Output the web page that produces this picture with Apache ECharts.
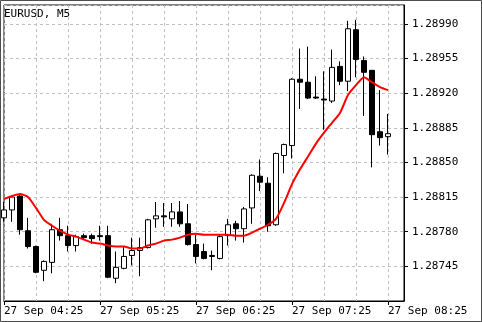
<!DOCTYPE html>
<html><head><meta charset="utf-8">
<script src="https://cdn.jsdelivr.net/npm/echarts@6/dist/echarts.min.js"></script>
<style>html,body{margin:0;padding:0;background:#fff}#c{width:482px;height:322px}</style>
</head><body><div id="c"></div>
<script>
const symbolTitle = 'EURUSD, M5';
const dateLabel = '27 Sep';
const times = ['04:25','04:30','04:35','04:40','04:45','04:50','04:55',
  '05:00','05:05','05:10','05:15','05:20','05:25','05:30','05:35','05:40','05:45','05:50','05:55',
  '06:00','06:05','06:10','06:15','06:20','06:25','06:30','06:35','06:40','06:45','06:50','06:55',
  '07:00','07:05','07:10','07:15','07:20','07:25','07:30','07:35','07:40','07:45','07:50','07:55',
  '08:00','08:05','08:10','08:15','08:20','08:25'];
const openP = [1.28794,1.28802,1.28816,1.28781,1.28765,1.28741,1.28749,1.28782,1.28776,1.28766,
  1.28776,1.28776,1.28776,1.28776,1.28733,1.28743,1.28756,1.28761,1.28764,1.28793,
  1.28796,1.28793,1.28800,1.28788,1.28767,1.28760,1.28756,1.28753,1.28776,1.28788,
  1.28783,1.28804,1.28836,1.28829,1.28787,1.28857,1.28867,1.28934,1.28931,1.28916,
  1.28914,1.28912,1.28947,1.28932,1.28984,1.28953,1.28943,1.28881,1.28876];
const closeP = [1.28802,1.28815,1.28782,1.28765,1.28739,1.28750,1.28782,1.28776,1.28766,1.28775,
  1.28774,1.28773,1.28775,1.28734,1.28744,1.28755,1.28761,1.28764,1.28792,1.28796,
  1.28795,1.28800,1.28788,1.28767,1.28755,1.28753,1.28755,1.28775,1.28787,1.28783,
  1.28803,1.28837,1.28830,1.28786,1.28859,1.28868,1.28934,1.28931,1.28915,1.28915,
  1.28913,1.28946,1.28932,1.28985,1.28954,1.28941,1.28878,1.28875,1.28879];
const lowP = [1.28790,1.28790,1.28777,1.28763,1.28738,1.28730,1.28738,1.28771,1.28760,1.28760,
  1.28772,1.28768,1.28771,1.28733,1.28728,1.28742,1.28746,1.28735,1.28763,1.28784,
  1.28785,1.28785,1.28785,1.28766,1.28748,1.28752,1.28741,1.28752,1.28766,1.28771,
  1.28769,1.28788,1.28821,1.28780,1.28786,1.28839,1.28854,1.28904,1.28914,1.28914,
  1.28883,1.28910,1.28928,1.28922,1.28936,1.28897,1.28845,1.28867,1.28858];
const highP = [1.28810,1.28816,1.28817,1.28794,1.28766,1.28751,1.28788,1.28794,1.28786,1.28777,
  1.28778,1.28778,1.28786,1.28786,1.28760,1.28765,1.28774,1.28774,1.28793,1.28810,
  1.28809,1.28809,1.28811,1.28808,1.28777,1.28768,1.28761,1.28777,1.28793,1.28791,
  1.28805,1.28838,1.28853,1.28835,1.28860,1.28869,1.28935,1.28965,1.28967,1.28937,
  1.28942,1.28964,1.28952,1.28993,1.28994,1.28957,1.28943,1.28923,1.28899];
const maLine = [1.28813,1.28816,1.28818,1.28815,1.28804,1.28792,1.28786,1.28781,1.28777,1.28775,
  1.28772,1.28769,1.28768,1.28766,1.28765,1.28765,1.28763,1.28763,1.28766,1.28768,
  1.28771,1.28772,1.28774,1.28777,1.28778,1.28777,1.28777,1.28777,1.28777,1.28776,
  1.28776,1.28779,1.28783,1.28787,1.28793,1.28809,1.28828,1.28843,1.28856,1.28869,
  1.28880,1.28890,1.28900,1.28918,1.28928,1.28936,1.28931,1.28926,1.28923];
const yMin = 1.28710, yMax = 1.29009, yStep = 0.00035;

const ohlc = times.map((t, i) => [openP[i], closeP[i], lowP[i], highP[i]]);
const FONT = 'DejaVu Sans Mono';
const chart = echarts.init(document.getElementById('c'), null, {renderer: 'canvas'});
chart.setOption({
  animation: false,
  backgroundColor: '#fff',
  title: {text: symbolTitle, left: 4, top: 9, padding: 0,
    textStyle: {fontFamily: FONT, fontSize: 11, fontWeight: 'normal', color: '#000'}},
  graphic: [{type: 'rect', silent: true, z: 100,
    shape: {x: 0.5, y: 0.5, width: 481, height: 321},
    style: {fill: 'none', stroke: '#4d4d4d', lineWidth: 1}}],
  grid: {left: 4, right: 78, top: 5, bottom: 21, show: true, borderColor: '#000', borderWidth: 1},
  xAxis: {
    type: 'category', data: times, boundaryGap: false, max: 50,
    axisLine: {lineStyle: {color: '#000'}},
    axisTick: {interval: 11, length: 4, lineStyle: {color: '#000'}},
    axisLabel: {interval: 11, align: 'left', margin: 5, color: '#000', fontFamily: FONT, fontSize: 11,
      formatter: v => dateLabel + ' ' + v},
    splitLine: {show: true, interval: 3, lineStyle: {color: '#c0c0c0', type: [3, 3]}}
  },
  yAxis: {
    type: 'value', position: 'right', min: yMin, max: yMax, interval: yStep,
    axisLine: {show: true, lineStyle: {color: '#000'}},
    axisTick: {show: true, length: 4, lineStyle: {color: '#000'}},
    axisLabel: {showMinLabel: false, showMaxLabel: false, margin: 8, color: '#000',
      fontFamily: FONT, fontSize: 11, formatter: v => v.toFixed(5)},
    splitLine: {show: true, lineStyle: {color: '#c0c0c0', type: [3, 3]}}
  },
  series: [
    {type: 'candlestick', data: ohlc, barWidth: 5, clip: true,
      itemStyle: {color: '#fff', color0: '#000', borderColor: '#000', borderColor0: '#000', borderWidth: 1}},
    {type: 'line', data: maLine, symbol: 'none', showSymbol: false, smooth: 0.2, z: 3, clip: true,
      lineStyle: {color: '#ff0000', width: 2}}
  ]
});
</script></body></html>
